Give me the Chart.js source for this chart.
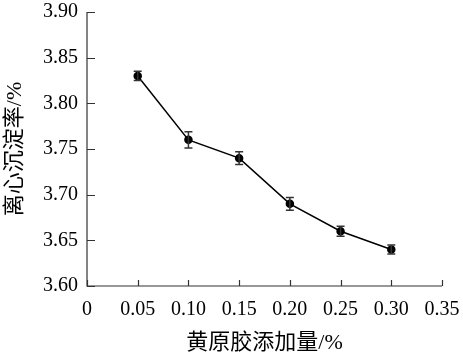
<!DOCTYPE html>
<html><head><meta charset="utf-8">
<script src="https://cdn.jsdelivr.net/npm/chart.js@4/dist/chart.umd.min.js"></script>
<style>html,body{margin:0;padding:0;background:#fff}#wrap{width:463px;height:360px}</style>
</head><body><div id="wrap"><canvas id="c" width="463" height="360"></canvas></div>
<script>
const xValues = [0.05, 0.10, 0.15, 0.20, 0.25, 0.30];
const yValues = [3.83, 3.76, 3.74, 3.69, 3.66, 3.64];
const yErrors = [0.005, 0.009, 0.007, 0.007, 0.0055, 0.005];
const xTickValues = [0, 0.05, 0.10, 0.15, 0.20, 0.25, 0.30, 0.35];
const xTickLabels = ['0', '0.05', '0.10', '0.15', '0.20', '0.25', '0.30', '0.35'];
const yTickValues = [3.60, 3.65, 3.70, 3.75, 3.80, 3.85, 3.90];
const yTickLabels = ['3.60', '3.65', '3.70', '3.75', '3.80', '3.85', '3.90'];
const xTitle = '黄原胶添加量/%';
const yTitle = '离心沉淀率/%';

const AXIS_COLOR = '#333';
const FONT = '"Liberation Serif", "Noto Sans CJK SC", serif';

const errorBars = {
  id: 'errorBars',
  afterDatasetsDraw(chart) {
    const {ctx, scales: {x, y}} = chart;
    ctx.save();
    ctx.strokeStyle = '#333';
    ctx.lineWidth = 1.5;
    xValues.forEach((xv, i) => {
      const px = x.getPixelForValue(xv);
      const top = y.getPixelForValue(yValues[i] + yErrors[i]);
      const bot = y.getPixelForValue(yValues[i] - yErrors[i]);
      ctx.beginPath();
      ctx.moveTo(px, top); ctx.lineTo(px, bot);
      ctx.moveTo(px - 4, top); ctx.lineTo(px + 4, top);
      ctx.moveTo(px - 4, bot); ctx.lineTo(px + 4, bot);
      ctx.stroke();
    });
    ctx.restore();
  }
};

const axesFrame = {
  id: 'axesFrame',
  afterDraw(chart) {
    const {ctx, chartArea: a, scales: {x, y}} = chart;
    ctx.save();
    ctx.strokeStyle = AXIS_COLOR;
    ctx.lineWidth = 1.2;
    ctx.beginPath();
    ctx.moveTo(a.left, a.top); ctx.lineTo(a.left, a.bottom); ctx.lineTo(a.right, a.bottom);
    y.ticks.forEach(t => {
      const py = Math.round(y.getPixelForValue(t.value)) + 0.5;
      ctx.moveTo(a.left, py); ctx.lineTo(a.left + 8, py);
    });
    x.ticks.forEach(t => {
      const px = Math.round(x.getPixelForValue(t.value)) + 0.5;
      ctx.moveTo(px, a.bottom); ctx.lineTo(px, a.bottom - 6);
    });
    ctx.stroke();
    ctx.restore();
  }
};

new Chart(document.getElementById('c'), {
  type: 'scatter',
  data: {
    datasets: [{
      data: xValues.map((xv, i) => ({x: xv, y: yValues[i]})),
      showLine: true,
      borderColor: '#000',
      borderWidth: 1.5,
      pointRadius: 3.5,
      pointBackgroundColor: '#000',
      pointBorderColor: '#000',
      tension: 0
    }]
  },
  options: {
    responsive: false,
    animation: false,
    devicePixelRatio: 1,
    layout: {padding: {top: 12, right: 21, left: 0, bottom: 0}},
    plugins: {legend: {display: false}, tooltip: {enabled: false}},
    scales: {
      x: {
        type: 'linear', min: 0, max: 0.35,
        afterBuildTicks(s) { s.ticks = xTickValues.map(v => ({value: v})); },
        afterFit(s) { s.height = 74; s.paddingLeft = 0; s.paddingRight = 0; },
        grid: {display: false, drawTicks: false},
        border: {display: false},
        ticks: {
          padding: 12,
          color: '#000',
          font: {family: FONT, size: 20},
          maxRotation: 0,
          autoSkip: false,
          callback: (v, i) => xTickLabels[i]
        },
        title: {display: true, text: xTitle, color: '#000', font: {family: FONT, size: 22}, padding: {top: 6}}
      },
      y: {
        type: 'linear', min: 3.60, max: 3.90,
        afterBuildTicks(s) { s.ticks = yTickValues.map(v => ({value: v})); },
        afterFit(s) { s.width = 87; s.paddingTop = 0; s.paddingBottom = 0; },
        grid: {display: false, drawTicks: false},
        border: {display: false},
        ticks: {
          padding: 9,
          color: '#000',
          font: {family: FONT, size: 20},
          autoSkip: false,
          callback: (v, i) => yTickLabels[i]
        },
        title: {display: true, text: yTitle, color: '#000', font: {family: FONT, size: 22}, padding: {top: 2, bottom: 2}}
      }
    }
  },
  plugins: [errorBars, axesFrame]
});
</script>
</body></html>
